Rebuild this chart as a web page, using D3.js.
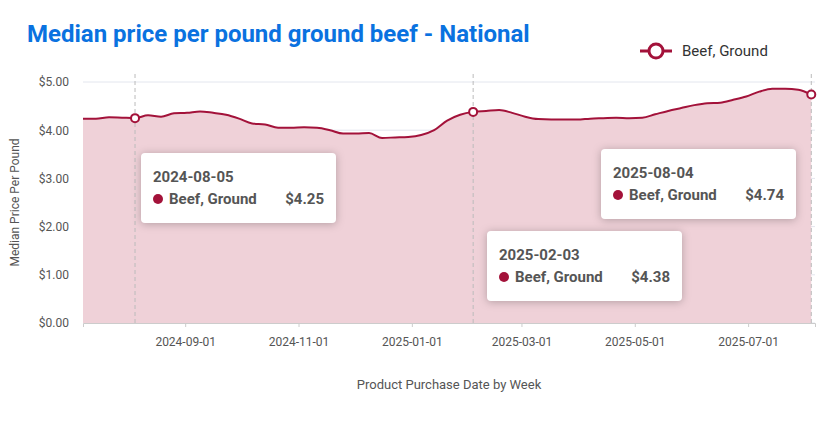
<!DOCTYPE html>
<html lang="en">
<head>
<meta charset="UTF-8" />
<title>Median price per pound ground beef</title>
<style>
  body { margin: 0; background: #fff; font-family: Roboto, "Noto Sans", sans-serif; }
  .tip rect { fill: #fff; filter: drop-shadow(0 1px 4px rgba(0,0,0,0.25)); }
</style>
</head>
<body>
<svg id="chart" width="824" height="422"></svg>
<script src="https://cdn.jsdelivr.net/npm/d3@7"></script>
<script>
  const startWeek = '2024-07-08';
  const prices = [4.24, 4.24, 4.27, 4.26, 4.25, 4.31, 4.28, 4.35, 4.36, 4.39, 4.36, 4.32, 4.24, 4.14,
    4.12, 4.05, 4.05, 4.06, 4.05, 4.00, 3.93, 3.93, 3.94, 3.84, 3.85, 3.86, 3.90, 4.00, 4.20, 4.32,
    4.38, 4.40, 4.42, 4.36, 4.28, 4.23, 4.22, 4.22, 4.22, 4.24, 4.25, 4.26, 4.25, 4.26, 4.33, 4.40,
    4.46, 4.52, 4.56, 4.57, 4.63, 4.70, 4.80, 4.86, 4.86, 4.84, 4.74];
  const xTicks = ['2024-09-01', '2024-11-01', '2025-01-01', '2025-03-01', '2025-05-01', '2025-07-01'];
  const yTicks = [0, 1, 2, 3, 4, 5];
  const tipDates = ['2024-08-05', '2025-02-03', '2025-08-04'];
  const seriesName = 'Beef, Ground';

  const parse = d3.utcParse('%Y-%m-%d'), fmt = d3.utcFormat('%Y-%m-%d');
  const data = prices.map((v, i) => ({ date: d3.utcDay.offset(parse(startWeek), i * 7), value: v }));

  const svg = d3.select('#chart');
  const m = { l: 83, r: 815, t: 82, b: 323 };
  const x = d3.scaleUtc().domain([parse(startWeek), d3.utcDay.offset(parse('2025-08-04'), 2)]).range([m.l, m.r]);
  const y = d3.scaleLinear().domain([0, 5]).range([m.b, m.t]);
  const red = '#a3123a';

  svg.append('text').attr('x', 27).attr('y', 42).attr('fill', '#0a72e0')
    .attr('font-size', 24).attr('font-weight', 700).text('Median price per pound ground beef - National');

  // legend
  const lg = svg.append('g').attr('transform', 'translate(640,51)');
  lg.append('line').attr('x1', 0).attr('x2', 32).attr('stroke', red).attr('stroke-width', 3);
  lg.append('circle').attr('cx', 16).attr('r', 7).attr('fill', '#fff').attr('stroke', red).attr('stroke-width', 3);
  lg.append('text').attr('x', 42).attr('y', 5).attr('font-size', 15).attr('fill', '#333').text(seriesName);

  // grid + y axis
  svg.append('g').selectAll('line').data(yTicks).join('line')
    .attr('x1', m.l).attr('x2', m.r).attr('y1', y).attr('y2', y).attr('stroke', '#e3e6ee');
  svg.append('g').attr('transform', `translate(${m.l},0)`)
    .call(d3.axisLeft(y).tickValues(yTicks).tickFormat(d3.format('$.2f')).tickSize(0).tickPadding(14))
    .call(g => g.select('.domain').remove())
    .selectAll('text').attr('font-size', 12).attr('fill', '#555').attr('font-family', 'Roboto');

  svg.append('text').attr('transform', `translate(19,${(m.t + m.b) / 2}) rotate(-90)`)
    .attr('text-anchor', 'middle').attr('font-size', 12).attr('fill', '#555').text('Median Price Per Pound');

  // area + line
  svg.append('path').datum(data).attr('fill', '#efd1d8')
    .attr('d', d3.area().x(d => x(d.date)).y0(y(0)).y1(d => y(d.value)).curve(d3.curveMonotoneX));
  svg.append('path').datum(data).attr('fill', 'none').attr('stroke', red).attr('stroke-width', 2)
    .attr('d', d3.line().x(d => x(d.date)).y(d => y(d.value)).curve(d3.curveMonotoneX));

  // x axis
  svg.append('g').attr('transform', `translate(0,${m.b})`)
    .call(d3.axisBottom(x).tickValues(xTicks.map(parse)).tickFormat(fmt).tickSize(4).tickPadding(10))
    .call(g => g.select('.domain').attr('stroke', '#ccc'))
    .call(g => g.selectAll('line').attr('stroke', '#ccc'))
    .selectAll('text').attr('font-size', 12).attr('fill', '#555').attr('font-family', 'Roboto');
  svg.append('text').attr('x', (m.l + m.r) / 2 + 0).attr('y', 389).attr('text-anchor', 'middle')
    .attr('font-size', 13).attr('fill', '#555').text('Product Purchase Date by Week');

  // crosshair markers
  const tipData = tipDates.map(s => data.find(d => fmt(d.date) === s));
  svg.append('g').selectAll('line').data(tipData).join('line')
    .attr('x1', d => x(d.date)).attr('x2', d => x(d.date)).attr('y1', m.t - 8).attr('y2', m.b)
    .attr('stroke', '#bbb').attr('stroke-dasharray', '4,3');
  svg.append('g').selectAll('circle').data(tipData).join('circle')
    .attr('cx', d => x(d.date)).attr('cy', d => y(d.value)).attr('r', 4)
    .attr('fill', '#fff').attr('stroke', red).attr('stroke-width', 2);

  // tooltips
  const tipPos = [[141, 153], [487, 231], [601, 149]];
  tipData.forEach((d, i) => {
    const g = svg.append('g').attr('class', 'tip').attr('transform', `translate(${tipPos[i][0]},${tipPos[i][1]})`);
    g.append('rect').attr('width', 195).attr('height', 70).attr('rx', 4);
    g.append('text').attr('x', 12).attr('y', 29).attr('font-size', 15).attr('font-weight', 700)
      .attr('fill', '#555').text(fmt(d.date));
    g.append('circle').attr('cx', 17).attr('cy', 46).attr('r', 5).attr('fill', red);
    g.append('text').attr('x', 28).attr('y', 51).attr('font-size', 15).attr('font-weight', 700)
      .attr('fill', '#555').text(seriesName);
    g.append('text').attr('x', 183).attr('y', 51).attr('text-anchor', 'end').attr('font-size', 15)
      .attr('font-weight', 700).attr('fill', '#555').text(d3.format('$.2f')(d.value));
  });
</script>
</body>
</html>
